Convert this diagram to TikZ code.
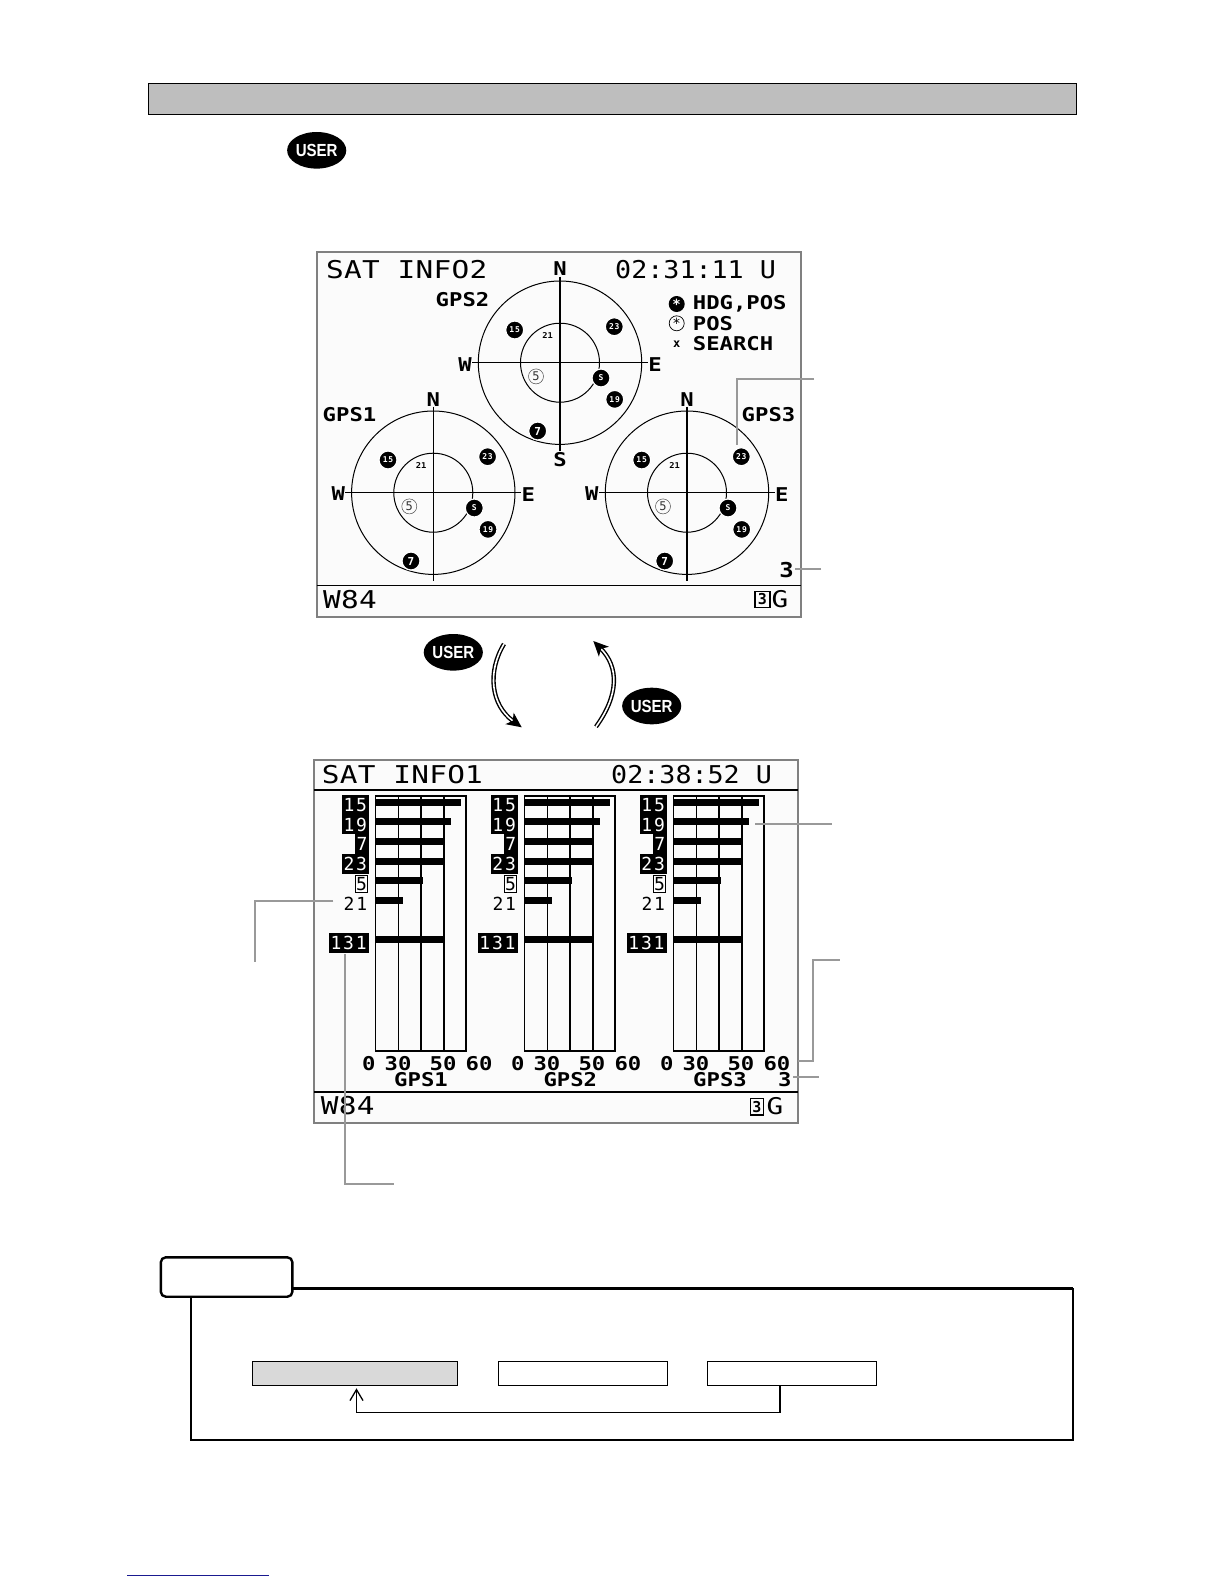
\documentclass[tikz,border=0pt]{standalone}
\usepackage{fontspec}
\setmainfont{Liberation Sans}
\newfontfamily\keyfont[FakeStretch=0.86]{Liberation Sans}
\newfontfamily\lcdfont[FakeStretch=1.17]{DejaVu Sans Mono}
\newfontfamily\lcdwide[FakeStretch=1.2,LetterSpace=1]{DejaVu Sans Mono}
\newfontfamily\lcdtight[FakeStretch=1.09]{DejaVu Sans Mono}
\newfontfamily\lcdrow[LetterSpace=10]{DejaVu Sans Mono}
\newcommand\lcdsize[1]{\fontsize{#1}{#1}\selectfont}
\usetikzlibrary{arrows.meta,shapes.geometric}
\definecolor{barfill}{HTML}{BEBEBE}
\definecolor{framegray}{HTML}{808080}
\definecolor{leadgray}{HTML}{999999}
\definecolor{screenbg}{HTML}{FBFBFB}
\definecolor{linkblue}{HTML}{1A1A90}
\tikzset{
	screen/.style={draw=framegray, line width=1.8pt, fill=screenbg},
	lead/.style={draw=leadgray, line width=2pt},
	userkey/.style={ellipse, fill=black, text=white, inner sep=0pt, minimum width=57.4pt, minimum height=36.6pt, font=\keyfont\bfseries\fontsize{17.5}{17.5}\selectfont},
	swaparrow/.style={double, double distance=1.6pt, line width=1.4pt, -{Stealth[length=15pt,width=14pt,inset=4pt]}},
	lcdtitle/.style={anchor=west, inner sep=0pt, font=\lcdwide\lcdsize{24.5}},
	lcdclock/.style={anchor=west, inner sep=0pt, font=\lcdtight\lcdsize{24.5}},
	lcdbold/.style={inner sep=0pt, font=\lcdfont\bfseries\lcdsize{19}},
	lcdthin/.style={inner sep=0pt, font=\lcdrow\lcdsize{18}},
	satfull/.style={circle, fill=black, draw=white, line width=1.2pt, text=white, inner sep=0pt, minimum size=18pt, font=\lcdrow\bfseries\lcdsize{8}},
	sathollow/.style={circle, fill=screenbg, draw=black!70, line width=0.5pt, text=black!80, inner sep=0pt, minimum size=15pt, font=\lcdrow\lcdsize{12}},
	rowblack/.style={fill=black, text=white, anchor=east, inner sep=0pt, minimum height=19.6pt, font=\lcdrow\lcdsize{18}},
	notebox/.style={draw=black, line width=1.1pt, inner sep=0pt, minimum height=24pt},
}
% one sky plot, #3 is the prefix of the node names
\def\skyplot(#1,#2)#3{
	\begin{scope}[shift={(#1,#2)}]
		\draw[line width=1pt] (0,0) circle (81.7pt);
		\draw[line width=1pt] (0,0) circle (39.5pt);
		\draw[line width=1.5pt] (-88,0) -- (88,0);
		\draw[line width=1.5pt] (0,-86) -- (0,88);
		\node[satfull] (#3sata) at (-45.3,-32.7) {15};
		\node[satfull] (#3satb) at (54.3,-36) {23};
		\node[satfull] (#3satc) at (41,15.3) {S};
		\node[satfull] (#3satd) at (54.7,36.7) {19};
		\node[satfull, font=\lcdrow\bfseries\lcdsize{11}] (#3sate) at (-22.3,68.3) {7};
		\node[sathollow] (#3satf) at (-24,13.7) {5};
		\node[inner sep=0pt, font=\lcdtight\bfseries\lcdsize{8}] (#3satg) at (-12.3,-26.7) {21};
	\end{scope}
}
% one bar chart, #1 is its left edge, #2 the prefix of the node names
\def\levelchart(#1)#2{
	\begin{scope}[shift={(#1,0)}]
		\draw[line width=1.5pt] (0,796) rectangle (90.5,1051);
		\foreach \xpos in {23,45.4,68.4} {
			\draw[line width=1.5pt] (\xpos,796) -- (\xpos,1051);
		}
		\foreach \ypos/\xend in {802.3/85.3,821.7/75.3,841.3/69.3,861.3/68.3,880.3/47,900.3/27.3,939.3/68.3} {
			\fill (0,\ypos-3.5) rectangle (\xend,\ypos+3.5);
		}
		\node[rowblack, minimum width=26.7pt] (#2rowa) at (-6.9,805.1) {15};
		\node[rowblack, minimum width=26.7pt] (#2rowb) at (-6.9,824.6) {19};
		\node[rowblack, minimum width=13.3pt] (#2rowc) at (-6.9,844.2) {7};
		\node[rowblack, minimum width=26.7pt] (#2rowd) at (-6.9,864.2) {23};
		\node[draw=black, line width=1pt, fill=white, anchor=east, inner sep=0pt, minimum width=12.6pt, minimum height=17pt, font=\lcdrow\lcdsize{18}] (#2rowe) at (-7.3,883.7) {5};
		\node[lcdthin] (#2rowf) at (-20.3,903.5) {21};
		\node[rowblack, minimum width=40pt] (#2rowg) at (-6.9,942.8) {131};
		\node[lcdbold] (#2scalea) at (-6.8,1063.3) {0};
		\node[lcdbold] (#2scaleb) at (22.3,1063.3) {30};
		\node[lcdbold] (#2scalec) at (67.3,1063.3) {50};
		\node[lcdbold] (#2scaled) at (103.3,1063.3) {60};
	\end{scope}
}

\begin{document}
\begin{tikzpicture}[x=1pt, y=-1pt]
	\useasboundingbox (0,0) rectangle (1224,1584);
	%%%%% HEADER %%%%%
	
	\draw[fill=barfill, line width=1pt] (148.3,83.3) rectangle (1076.6,114.3);
	\node[userkey] (keytop) at (316.7,150.3) {USER};
	
	%%%%% SAT INFO2 %%%%%
	
	\draw[screen] (316.7,252.3) rectangle (801,616.7);
	\draw[line width=1.3pt] (316.7,585.3) -- (801,585.3);
	\node[lcdtitle] (infotwo) at (326,270) {SAT INFO2};
	\node[lcdclock] (clocktwo) at (615,270) {02:31:11 U};
	
	\skyplot(560,362.7){gpsb}
	\skyplot(433.3,492.7){gpsa}
	\skyplot(687,492.7){gpsc}
	
	\node[lcdbold] (labelb) at (462.5,299.3) {GPS2};
	\node[lcdbold] (labela) at (349.5,414.3) {GPS1};
	\node[lcdbold] (labelc) at (768.5,414.3) {GPS3};
	
	\foreach \nm/\xpos/\ypos/\txt in {nb/560/269/N,wb/465/364.3/W,eb/655/364.3/E,sb/560/459.3/S,na/433.3/399.3/N,wa/338.3/493.3/W,ea/528.3/494.3/E,nc/687/399.3/N,wc/591.7/493.3/W,ec/781.7/494.3/E} {
		\node[lcdbold] (\nm) at (\xpos,\ypos) {\txt};
	}
	
	\node[circle, fill=black, text=white, inner sep=0pt, minimum size=16pt, font=\lcdrow\bfseries\lcdsize{14}] (legenda) at (676.7,304) {*};
	\node[circle, draw=black, line width=0.7pt, inner sep=0pt, minimum size=15pt, font=\lcdrow\lcdsize{14}] (legendb) at (676.7,323.3) {*};
	\node[inner sep=0pt, font=\lcdrow\bfseries\lcdsize{12}] (legendc) at (676.7,344.3) {x};
	\node[lcdbold, anchor=west] (legendtexta) at (692.7,304) {HDG,POS};
	\node[lcdbold, anchor=west] (legendtextb) at (692.7,323.3) {POS};
	\node[lcdbold, anchor=west] (legendtextc) at (692.7,343.3) {SEARCH};
	
	\node[inner sep=0pt, font=\lcdfont\bfseries\lcdsize{20.5}] (counttwo) at (786.7,570) {3};
	\node[lcdtitle] (datumtwo) at (323,599.3) {W84};
	\node[draw=black, line width=1.1pt, inner sep=0pt, minimum width=15pt, minimum height=16.5pt, font=\lcdrow\bfseries\lcdsize{15}] (fixtwo) at (762.5,599.3) {3};
	\node[inner sep=0pt, font=\lcdwide\lcdsize{23}] (gtwo) at (780,599.3) {G};
	
	\draw[lead] (821,568.6) -- (795,568.6);
	\draw[lead] (814,379) -- (737.3,379) -- (737.3,445);
	
	%%%%% SWITCHING %%%%%
	
	\node[userkey] (keyleft) at (453.3,652.3) {USER};
	\node[userkey] (keyright) at (651.7,706) {USER};
	\coordinate (downfrom) at (504,644);
	\coordinate (downto) at (521.7,727.3);
	\coordinate (upfrom) at (596,726.7);
	\coordinate (upto) at (593.3,641);
	\draw[swaparrow] (downfrom) .. controls (487,672) and (491,705) .. (downto);
	\draw[swaparrow] (upfrom) .. controls (619,695) and (619,667) .. (upto);
	
	%%%%% SAT INFO1 %%%%%
	
	\draw[screen] (314,760) rectangle (797.6,1123.3);
	\draw[line width=1.3pt] (314,790) -- (797.6,790);
	\draw[line width=1.8pt] (314,1091.7) -- (797.6,1091.7);
	\node[lcdtitle] (infoone) at (321.7,775) {SAT INFO1};
	\node[lcdclock] (clockone) at (611,775) {02:38:52 U};
	
	\levelchart(375.7){cha}
	\levelchart(524.6){chb}
	\levelchart(673.6){chc}
	
	\node[lcdbold] (gpsonea) at (421,1080) {GPS1};
	\node[lcdbold] (gpsoneb) at (570.3,1080) {GPS2};
	\node[lcdbold] (gpsonec) at (720,1080) {GPS3};
	
	\node[inner sep=0pt, font=\lcdfont\bfseries\lcdsize{19}] (countone) at (784.8,1080) {3};
	\node[lcdtitle] (datumone) at (320.7,1106) {W84};
	\node[draw=black, line width=1.1pt, inner sep=0pt, minimum width=13.5pt, minimum height=16.5pt, font=\lcdrow\bfseries\lcdsize{15}] (fixone) at (757,1106.7) {3};
	\node[inner sep=0pt, font=\lcdwide\lcdsize{23}] (gone) at (775,1106) {G};
	
	\draw[lead] (333.3,900.7) -- (254.5,900.7) -- (254.5,961.5);
	\draw[lead] (345,954) -- (345,1184.3) -- (393.7,1184.3);
	\draw[lead] (755,823.7) -- (831.7,823.7);
	\draw[lead] (797.6,1060.7) -- (812.7,1060.7) -- (812.7,960) -- (840,960);
	\draw[lead] (793,1076.7) -- (819,1076.7);
	
	%%%%% NOTE %%%%%
	
	\draw[line width=2pt] (191,1288) -- (191,1440) -- (1072.6,1440) -- (1072.6,1288);
	\draw[line width=3pt] (191,1288) -- (1072.6,1288);
	\node[draw=black, fill=white, line width=2.4pt, rounded corners=5pt, inner sep=0pt, minimum width=131.6pt, minimum height=39.4pt] (notetab) at (226.6,1277) {};
	
	\node[notebox, fill=black!15, minimum width=204.6pt] (stepa) at (355,1373.7) {};
	\node[notebox, minimum width=168.5pt] (stepb) at (583,1373.7) {};
	\node[notebox, minimum width=169pt] (stepc) at (792.1,1373.7) {};
	\coordinate (backfrom) at (780,1385.7);
	\coordinate (backturn) at (780,1412.7);
	\coordinate (backto) at (356.5,1388.3);
	\draw[line width=1.3pt, -{Straight Barb[length=11pt,width=13pt]}] (backfrom) -- (backturn) -| (backto);
	
	\draw[linkblue, line width=1.2pt] (127,1575.3) -- (269,1575.3);
	
	%%%%% END %%%%%
\end{tikzpicture}
\end{document}
